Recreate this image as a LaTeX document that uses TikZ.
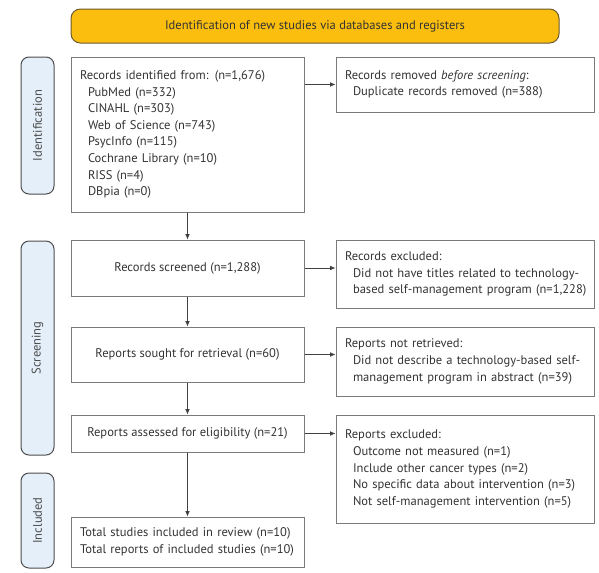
\documentclass[tikz,border=0pt]{standalone}
\usepackage{fontspec}
\setmainfont{PT Sans}
\usetikzlibrary{arrows.meta}
\definecolor{hdr}{HTML}{FBBE0E}
\definecolor{hdrline}{HTML}{6B5A2E}
\definecolor{side}{HTML}{E4EFFA}
\definecolor{sideline}{HTML}{4D4D4D}
\definecolor{boxline}{HTML}{7A7A7A}
\definecolor{txt}{HTML}{333333}
\newcommand{\ind}[1]{\hspace*{6pt}\mbox{#1}}
\hbadness=10000 \hfuzz=50pt
\begin{document}
\begin{tikzpicture}[x=0.75pt,y=-0.75pt,
  every node/.style={font=\fontsize{9.4}{12.45}\selectfont, text=txt},
  box/.style={draw=boxline, line width=0.75pt, inner sep=0pt},
  lbox/.style={box, align=left, inner xsep=6.75pt},
  cbox/.style={box, align=center, minimum width=174.75pt},
  arr/.style={draw=black!75, line width=0.6pt, -{Latex[length=4pt,width=3.5pt]}},
  sidebox/.style={draw=sideline, fill=side, rounded corners=6pt, line width=0.75pt,
    minimum height=24.75pt, inner sep=0pt, rotate=90, text=black!70}]
\useasboundingbox (0,0) rectangle (599,572);

\node[draw=hdrline, fill=hdr, rounded corners=7pt, minimum width=366pt,
  minimum height=25.5pt, line width=0.75pt] (hdr) at (315,26)
  {Identification of new studies via databases and registers};

\node[sidebox, minimum width=102.75pt] (sid) at (37.5,125.5) {Identification};
\node[sidebox, minimum width=160.5pt] (ssc) at (37.5,348) {Screening};
\node[sidebox, minimum width=71.25pt] (sin) at (37.5,520.5) {Included};

\node[lbox, text width=161.25pt, minimum height=116.25pt] (box1) at (187.5,134.5)
  {Records identified from: (n=1,676)\\
   \ind{PubMed (n=332)}\\
   \ind{CINAHL (n=303)}\\
   \ind{Web of Science (n=743)}\\
   \ind{PsycInfo (n=115)}\\
   \ind{Cochrane Library (n=10)}\\
   \ind{RISS (n=4)}\\
   \ind{DBpia (n=0)}};

\node[lbox, text width=180pt, minimum height=41.25pt] (rem) at (465,84.5)
  {Records removed \textit{before screening}:\\
   \ind{Duplicate records removed (n=388)}};

\node[cbox, minimum height=42pt] (scr) at (187.5,268) {Records screened (n=1,288)};

\node[lbox, text width=180pt, minimum height=51pt] (ex1) at (465,274)
  {Records excluded:\\
   \ind{Did not have titles related to technology-}\\
   \ind{based self-management program (n=1,228)}};

\node[cbox, minimum height=41.25pt] (sou) at (187.5,354.5) {Reports sought for retrieval (n=60)};

\node[lbox, text width=180pt, minimum height=51.75pt] (nr) at (465,361.5)
  {Reports not retrieved:\\
   \ind{Did not describe a technology-based self-}\\
   \ind{management program in abstract (n=39)}};

\node[cbox, minimum height=27.75pt] (ass) at (187.5,433.5) {Reports assessed for eligibility (n=21)};

\node[lbox, text width=180pt, minimum height=81pt] (ex2) at (465,469)
  {Reports excluded:\\
   \ind{Outcome not measured (n=1)}\\
   \ind{Include other cancer types (n=2)}\\
   \ind{No specific data about intervention (n=3)}\\
   \ind{Not self-management intervention (n=5)}};

\node[lbox, text width=161.25pt, minimum height=37.5pt] (tot) at (187.5,542)
  {Total studies included in review (n=10)\\
   Total reports of included studies (n=10)};

\draw[arr] (rem.west -| box1.east) -- (rem.west);
\draw[arr] (scr.east) -- (scr.east -| ex1.west);
\draw[arr] (sou.east) -- (sou.east -| nr.west);
\draw[arr] (ass.east) -- (ass.east -| ex2.west);
\draw[arr] (box1) -- (scr);
\draw[arr] (scr) -- (sou);
\draw[arr] (sou) -- (ass);
\draw[arr] (ass) -- (tot);
\end{tikzpicture}
\end{document}
